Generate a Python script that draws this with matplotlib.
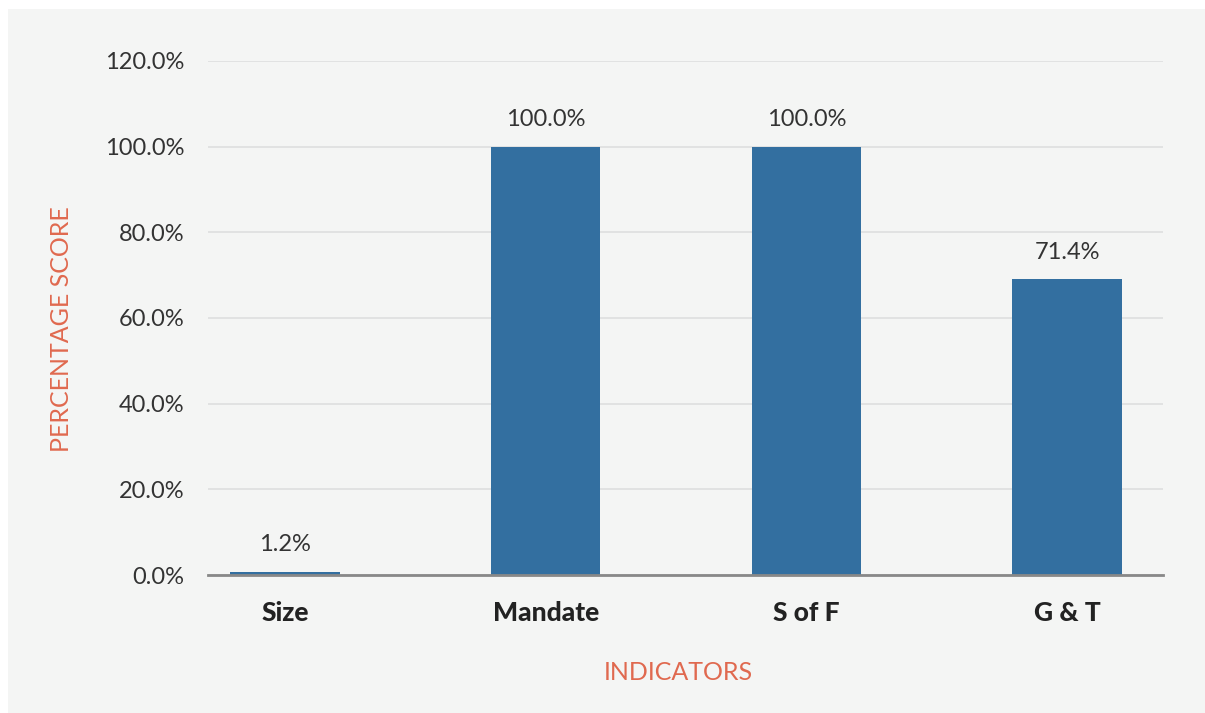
import matplotlib.pyplot as plt
import matplotlib.patches as mpatches
import numpy as np

categories = ["Size", "Mandate", "S of F", "G & T"]
bar_heights = [0.7, 100.0, 100.0, 69.0]
bar_labels = ["1.2%", "100.0%", "100.0%", "71.4%"]
y_ticks = [0, 20, 40, 60, 80, 100, 120]

plt.rcParams['font.family'] = ['Lato', 'DejaVu Sans']

bg = "#f4f5f4"
fig = plt.figure(figsize=(12.05, 7.13), dpi=100)
fig.patch.set_facecolor("white")
fig.patches.append(mpatches.Rectangle((8 / 1205, 0), 1 - 8 / 1205, 1 - 9 / 713,
                                      transform=fig.transFigure,
                                      facecolor=bg, edgecolor="none", zorder=-1))

ax = fig.add_axes([208 / 1205, 1 - 575 / 713, 955 / 1205, 514 / 713])
ax.set_facecolor(bg)

x = np.arange(len(categories))
ax.bar(x, bar_heights, width=0.42, color="#336fa0", zorder=3)
for xi, h, lab in zip(x, bar_heights, bar_labels):
    ax.text(xi, h + 3.9, lab, ha="center", va="bottom", fontsize=17, color="#333333")

ax.set_xlim(-0.295, 3.368)
ax.set_ylim(0, 120)
ax.set_yticks(y_ticks)
ax.set_yticklabels([f"{v:.1f}%" for v in y_ticks], fontsize=17, color="#333333")
ax.set_xticks(x)
ax.set_xticklabels(categories, fontsize=19, fontweight=900, color="#222222")
ax.tick_params(axis="y", length=0, pad=17)
ax.tick_params(axis="x", length=0, pad=19)

ax.grid(axis="y", color="#dedfdf", linewidth=1.2, zorder=0)
for s in ["top", "right", "left"]:
    ax.spines[s].set_visible(False)
ax.spines["bottom"].set_color("#888888")
ax.spines["bottom"].set_linewidth(2)
ax.spines["bottom"].set_zorder(4)

ax.set_xlabel("INDICATORS", fontsize=18, color="#e0694f")
ax.set_ylabel("PERCENTAGE SCORE", fontsize=18, color="#e0694f")
ax.xaxis.set_label_coords(0.492, -0.168)
ax.yaxis.set_label_coords(-0.141, 0.479)

fig.savefig("out.png", dpi=100, facecolor=fig.get_facecolor())
